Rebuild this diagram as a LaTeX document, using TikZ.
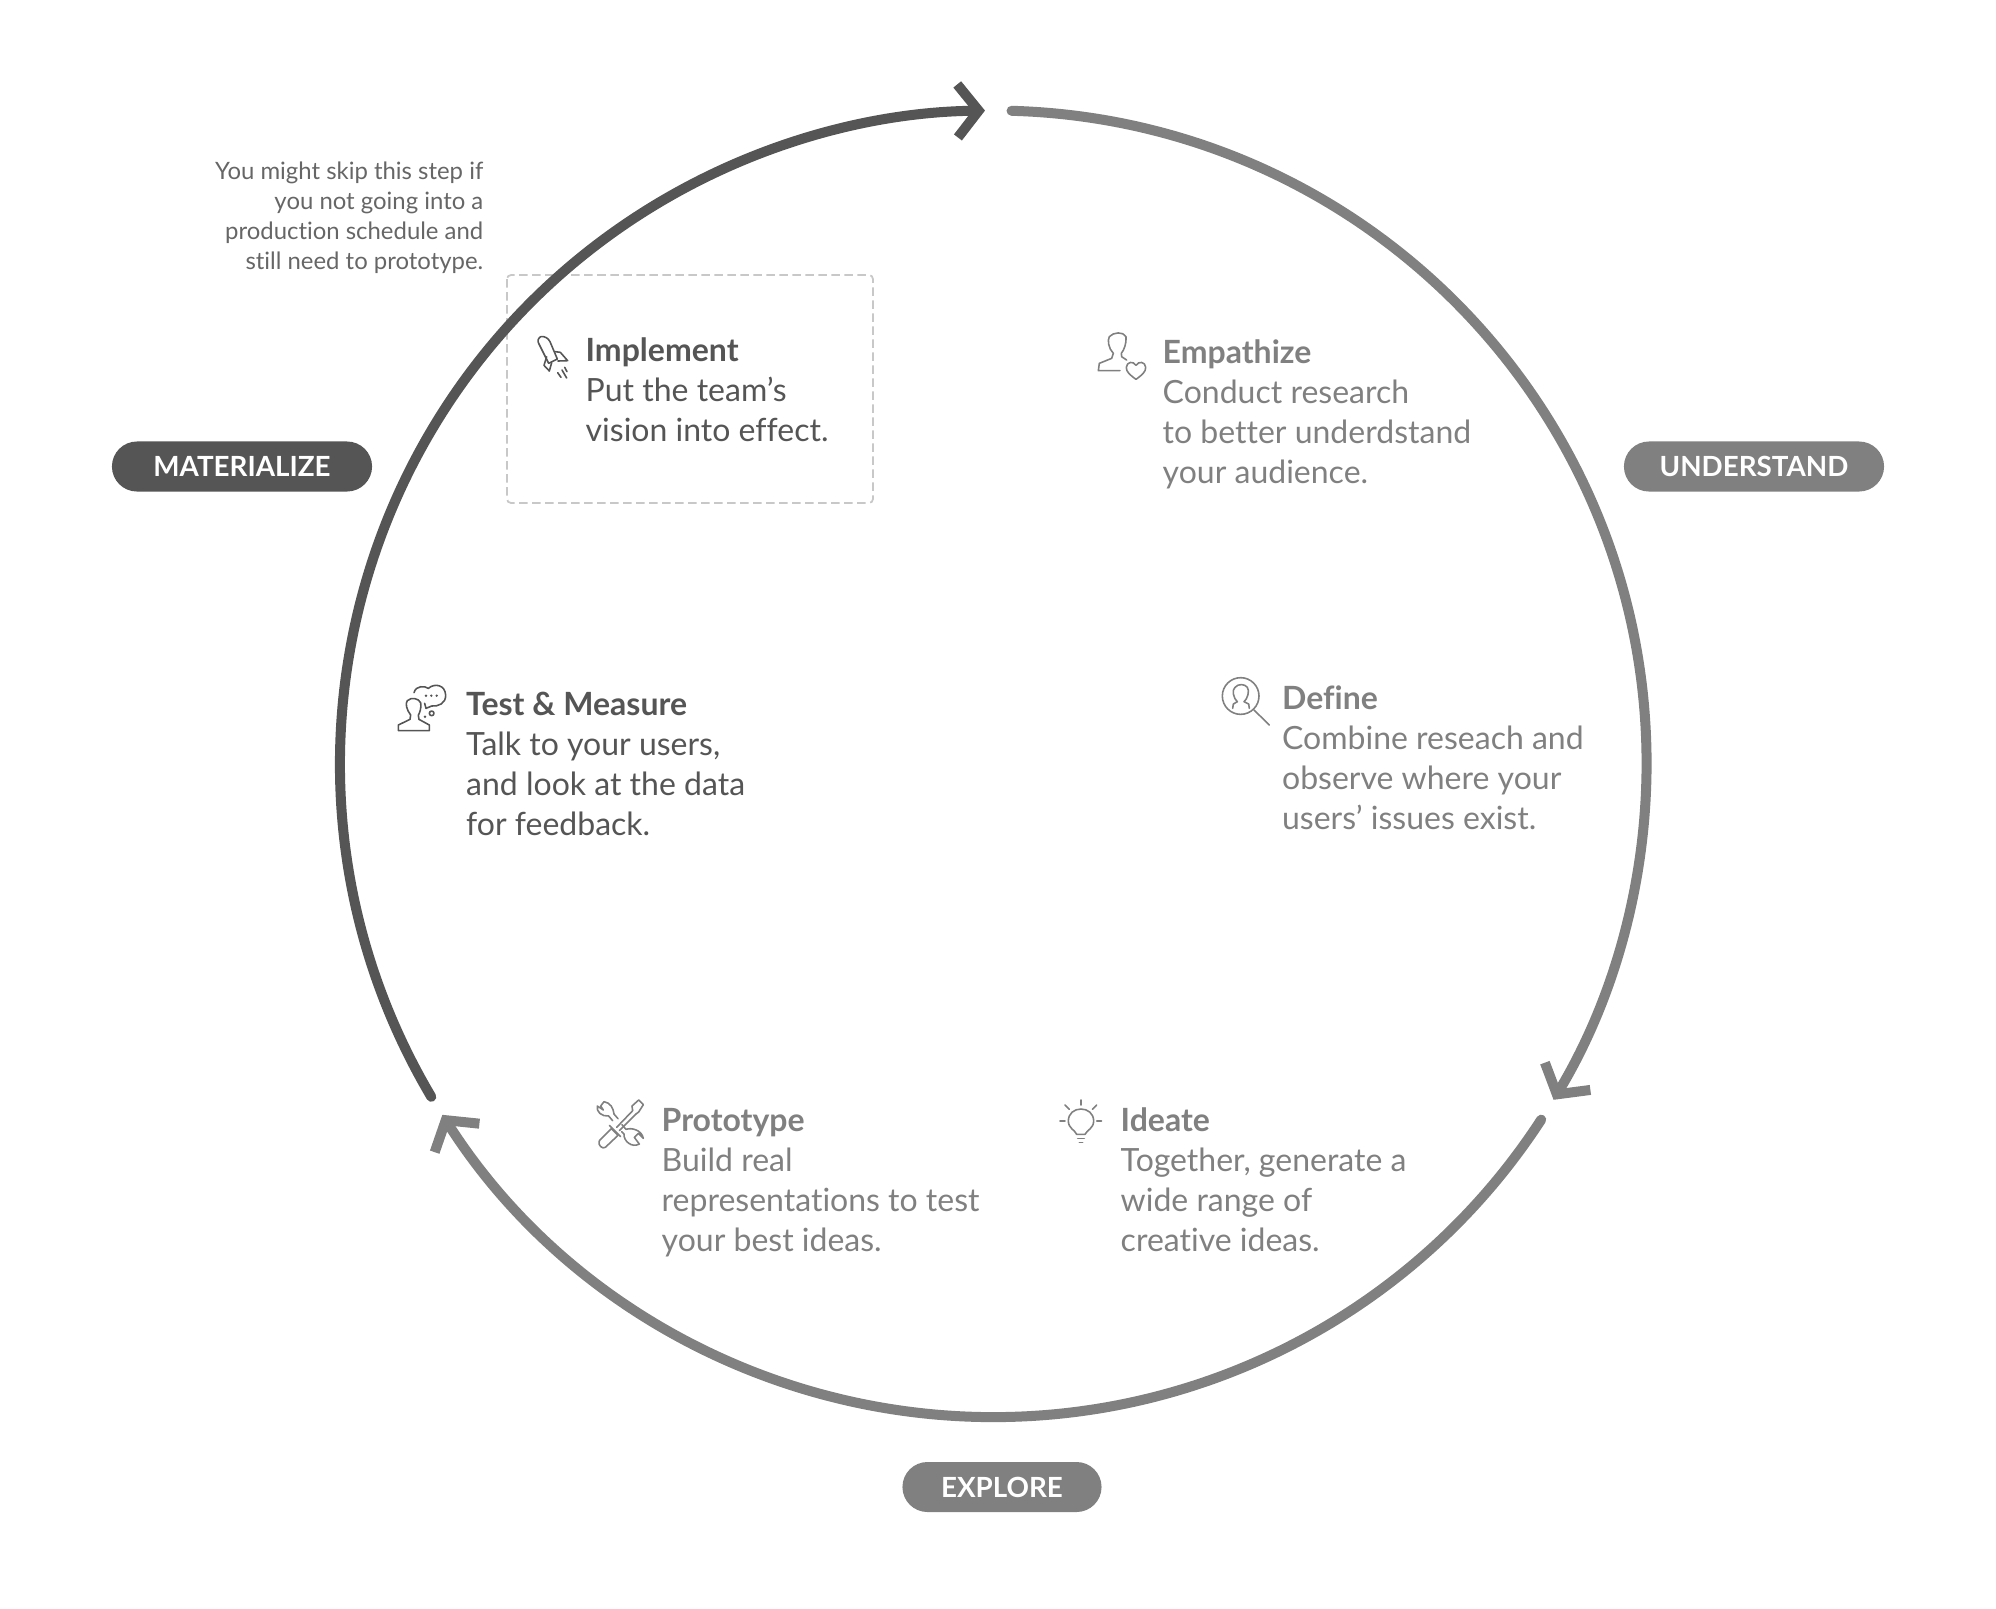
\documentclass[tikz,border=0pt]{standalone}
\usepackage{fontspec}
\setmainfont{Lato}[Ligatures=CommonOff]
\usetikzlibrary{arrows.meta,calc}
\definecolor{darkgr}{HTML}{555555}
\definecolor{lightgr}{HTML}{808080}
\definecolor{dashgr}{HTML}{C8C8C8}
\tikzset{
  ring/.style={line width=1mm, line cap=round, -{Straight Barb[sharp,length=2.1mm,width=5.3mm]}},
  pill/.style={rounded corners=2.5mm, minimum height=5mm, inner sep=0pt, text=white, font=\fontsize{7.9}{10}\selectfont\bfseries},
  stepbox/.style={anchor=north west, align=left, inner sep=0pt, font=\fontsize{9.1}{11.4}\selectfont},
  icon/.style={line width=0.45pt, line join=round, line cap=round}
}
\begin{document}
\begin{tikzpicture}[x=0.01cm,y=-0.01cm]
    \useasboundingbox (0,0) rectangle (1996,1608);
    % Caja punteada
    \draw[dashgr, line width=0.5pt, dash pattern=on 0.85mm off 0.45mm, rounded corners=0.4mm] (507,275) rectangle (873,503);

    % Circulo
    \coordinate (ctr) at (993.3,763.8);
    \coordinate (ua) at ($(ctr)+(-88.4:653.3)$);
    \coordinate (ea) at ($(ctr)+(33:653.3)$);
    \coordinate (ma) at ($(ctr)+(149.35:653.3)$);
    \draw[ring, lightgr] (ua) arc[start angle=-88.4, end angle=30.95, radius=653.3];
    \draw[ring, lightgr] (ea) arc[start angle=33, end angle=147.5, radius=653.3];
    \draw[ring, darkgr] (ma) arc[start angle=149.35, end angle=269.27, radius=653.3];

    % Etiquetas
    \node[pill, fill=darkgr, minimum width=2.6cm] (materialize) at (242,466.5) {MATERIALIZE};
    \node[pill, fill=lightgr, minimum width=2.6cm] (understand) at (1754,466.5) {UNDERSTAND};
    \node[pill, fill=lightgr, minimum width=1.99cm] (explore) at (1002,1487) {EXPLORE};

    % Pasos
    \node[stepbox, text=darkgr] (implement) at (585,337) {\textbf{Implement}\\Put the team’s\\vision into effect.};
    \node[stepbox, text=lightgr] (empathize) at (1162,339) {\textbf{Empathize}\\Conduct research\\to better underdstand\\your audience.};
    \node[stepbox, text=lightgr] (define) at (1281.4,685) {\textbf{Define}\\Combine reseach and\\observe where your\\users’ issues exist.};
    \node[stepbox, text=darkgr] (test) at (465.5,691) {\textbf{Test \& Measure}\\Talk to your users,\\and look at the data\\for feedback.};
    \node[stepbox, text=lightgr] (prototype) at (661,1107.5) {\textbf{Prototype}\\Build real\\representations to test\\your best ideas.};
    \node[stepbox, text=lightgr] (ideate) at (1120,1106.5) {\textbf{Ideate}\\Together, generate a\\wide range of\\creative ideas.};
    \node[anchor=north east, align=right, inner sep=0pt, text=darkgr!90, font=\fontsize{6.8}{8.54}\selectfont] (skipnote) at (484,161) {You might skip this step if\\you not going into a\\production schedule and\\still need to prototype.};

    % Iconos
    \begin{scope}[shift={(500,260)}, scale=1/3, icon, darkgr]
      \draw (122,230) .. controls (113,236) and (112,243) .. (117,252) -- (146,310) -- (172,297) -- (150,245) .. controls (145,235) and (135,228) .. (122,230);
      \draw (140,290) -- (132,316) -- (148,333) -- (155,308);
      \draw (166,275) -- (181,277) -- (203,302) -- (174,303);
      \draw (173,338) -- (183,352) (186,330) -- (200,354) (194,322) -- (201,335);
    \end{scope}
    \begin{scope}[shift={(1080,320)}, scale=1/3, icon, lightgr]
      \draw (120,152) -- (55,152) -- (58,130) -- (95,115) -- (100,100) .. controls (85,85) and (82,60) .. (88,50) .. controls (100,36) and (130,34) .. (138,50) .. controls (140,70) and (132,90) .. (124,100) -- (125,110) -- (140,120);
      \draw (168,178) .. controls (150,165) and (138,155) .. (139,142) .. controls (140,125) and (160,122) .. (168,136) .. controls (176,122) and (196,125) .. (197,142) .. controls (198,155) and (186,165) .. (168,178) -- cycle;
    \end{scope}
    \begin{scope}[shift={(1210,670)}, scale=1/3, icon, lightgr]
      \draw (92,78) circle[radius=55];
      \draw (132,120) -- (178,165);
      \draw (68,115) -- (70,102) -- (82,95) .. controls (70,85) and (65,60) .. (75,52) .. controls (85,40) and (105,42) .. (112,52) .. controls (120,62) and (112,88) .. (102,95) -- (116,102) -- (118,115);
    \end{scope}
    \begin{scope}[shift={(390,680)}, scale=1/3, icon, darkgr]
      \draw (25,152) -- (25,135) -- (60,118) -- (62,105) .. controls (50,90) and (45,70) .. (52,62) .. controls (65,50) and (85,55) .. (92,68) .. controls (95,85) and (88,100) .. (85,106) -- (87,118) -- (118,135) -- (118,152) -- cycle;
      \draw (72,38) .. controls (78,15) and (105,18) .. (115,25) .. controls (135,8) and (165,15) .. (167,45) .. controls (168,70) and (145,80) .. (125,78) -- (108,85) -- (104,70);
      \fill (108,47) circle[radius=4] (124,47) circle[radius=4] (140,47) circle[radius=4] (105,110) circle[radius=4];
      \draw (125,100) circle[radius=7];
    \end{scope}
    \begin{scope}[shift={(590,1090)}, scale=1/3, icon, lightgr]
      \draw (28,152) -- (64,116) -- (84,136) -- (46,172) .. controls (38,178) and (22,166) .. (28,152);
      \draw (58,106) -- (92,140);
      \draw (80,112) -- (128,62) (88,122) -- (138,72);
      \draw (128,62) -- (126,48) -- (146,30) -- (160,44) -- (146,66) -- (138,72);
      \draw (72,72) .. controls (70,55) and (62,38) .. (42,35) -- (32,48) -- (40,60) -- (22,48) .. controls (18,65) and (35,80) .. (56,78) -- (68,92);
      \draw (72,72) -- (84,86);
      \draw (96,104) -- (108,118) .. controls (125,112) and (155,120) .. (160,145) -- (145,130) -- (133,142) -- (148,162) .. controls (125,175) and (100,152) .. (102,132) -- (95,125);
    \end{scope}
    \begin{scope}[shift={(1055,1095)}, scale=1/3, icon, lightgr]
      \draw (65,118) .. controls (60,105) and (40,100) .. (40,78) .. controls (40,55) and (58,42) .. (78,42) .. controls (98,42) and (116,55) .. (116,78) .. controls (116,100) and (96,105) .. (90,118) -- cycle;
      \draw (68,130) -- (88,130) (73,143) -- (83,143);
      \draw (78,15) -- (78,30) (30,30) -- (43,43) (125,30) -- (112,43) (15,78) -- (30,78) (125,78) -- (140,78);
    \end{scope}
\end{tikzpicture}
\end{document}
